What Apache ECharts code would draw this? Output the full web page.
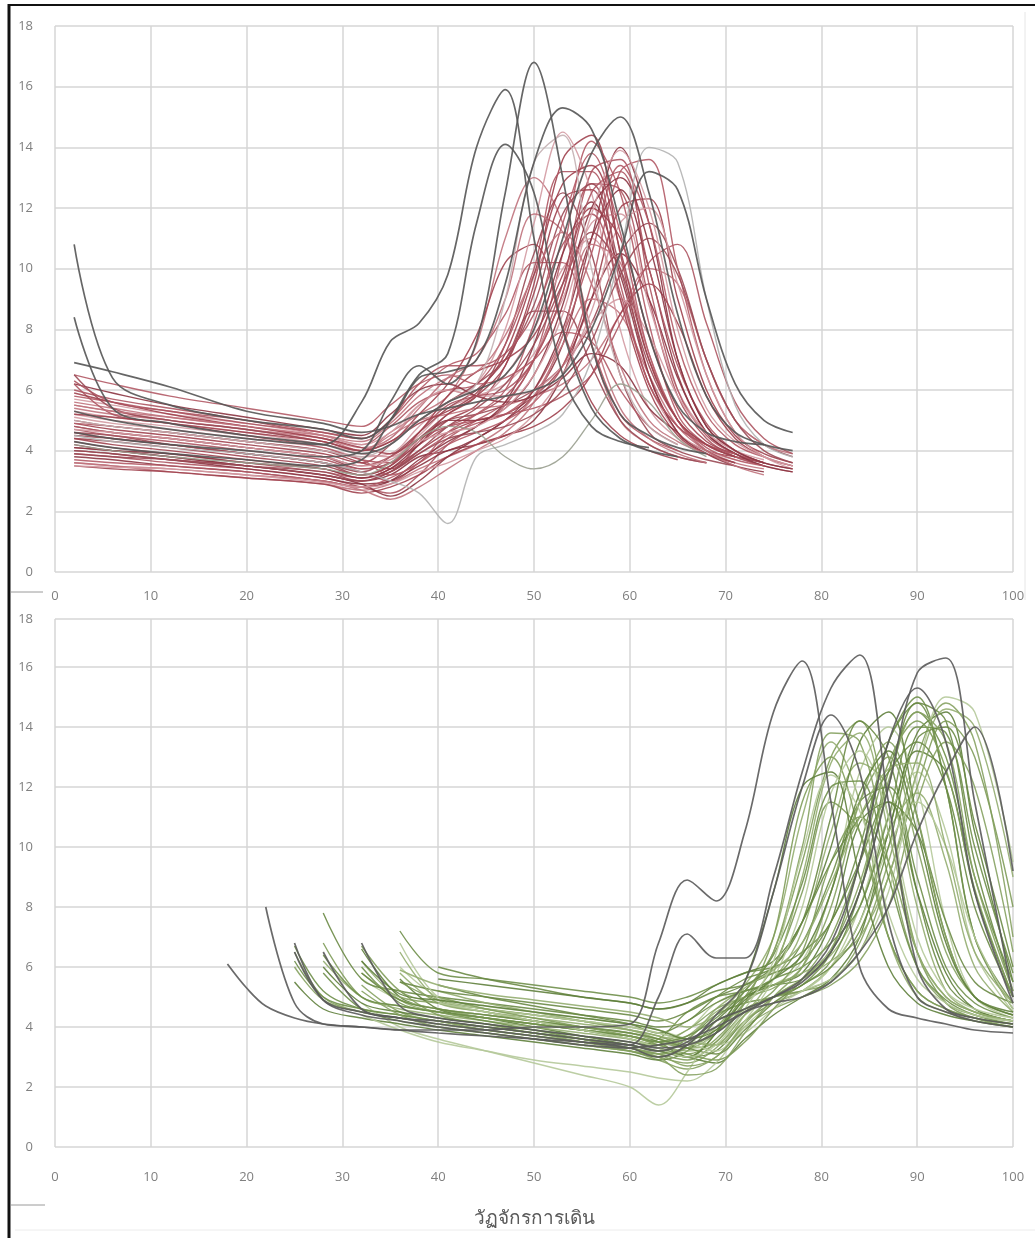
<!DOCTYPE html>
<html>
<head>
<meta charset="utf-8">
<script src="https://cdn.jsdelivr.net/npm/echarts@6/dist/echarts.min.js"></script>
<style>
html,body{margin:0;padding:0;background:#fff;}
#c{width:1035px;height:1238px;}
</style>
</head>
<body>
<div id="c"></div>
<script>
// ---------- DATA ----------
const xTickValues = [0,10,20,30,40,50,60,70,80,90,100];
const yTickValues = [0,2,4,6,8,10,12,14,16,18];
const xAxisTitle = 'วัฏจักรการเดิน';

// top panel: sample positions along the gait cycle
const topX = [2,6,12,20,28,32,35,38,41,44,47,50,53,56,59,62,65,68,71,74,77];
// top panel maroon curves
const topCurves = [
 [5.0,4.8,4.6,4.3,4.0,3.6,3.4,4.2,5.0,5.5,6.8,9.5,13.6,14.4,10.5,6.5,4.6,4.0,3.8,3.6,null],
 [4.6,4.4,4.2,3.9,3.6,3.3,3.0,3.6,4.4,5.0,5.6,7.0,10.5,14.2,12.5,8.2,5.2,4.2,3.8,3.5,null],
 [4.2,4.0,3.8,3.5,3.2,3.0,3.2,3.8,4.0,4.4,5.0,5.8,7.5,11.0,14.0,11.5,7.0,4.8,4.0,3.6,3.4],
 [5.5,5.3,5.0,4.7,4.3,4.0,4.6,5.2,5.8,7.5,11.0,13.0,11.5,7.5,5.0,4.2,3.8,3.6,null,null,null],
 [4.8,4.6,4.4,4.1,3.8,3.4,3.6,4.4,5.2,5.8,7.5,10.5,12.5,10.5,6.5,4.6,4.0,3.7,3.5,null,null],
 [3.9,3.8,3.6,3.4,3.1,2.8,2.6,3.2,4.2,4.8,5.5,7.0,9.5,12.8,12.6,9.0,5.8,4.4,3.8,3.5,3.3],
 [5.2,5.0,4.8,4.5,4.2,4.0,4.4,5.5,6.0,5.8,6.5,8.0,10.0,11.0,9.0,6.2,4.6,4.0,3.7,null,null],
 [4.4,4.2,4.0,3.7,3.4,3.1,3.4,4.0,4.6,5.0,5.2,5.8,6.8,9.0,12.0,12.3,9.0,6.0,4.5,3.9,3.6],
 [5.8,5.6,5.3,5.0,4.6,4.4,5.0,6.0,6.8,7.2,8.5,10.2,10.2,7.5,5.2,4.4,4.0,null,null,null,null],
 [4.0,3.9,3.7,3.4,3.1,2.9,3.0,3.5,4.0,4.2,4.5,5.0,6.5,9.0,10.5,9.0,6.4,4.6,3.9,3.6,null],
 [3.6,3.5,3.3,3.1,2.9,2.7,2.9,3.4,3.8,4.2,4.8,5.8,7.5,9.0,8.5,6.5,4.8,4.0,3.6,3.4,null],
 [4.6,4.5,4.2,3.9,3.6,3.2,3.5,4.4,5.0,5.2,5.5,6.0,6.8,8.2,10.5,11.5,10.0,7.0,5.0,4.2,3.8],
 [6.0,5.7,5.4,5.0,4.5,4.2,4.8,5.6,6.0,6.2,7.5,10.0,13.2,13.2,9.5,6.2,4.8,4.2,3.9,null,null],
 [5.3,5.1,4.9,4.6,4.2,3.9,3.8,4.5,5.4,5.8,6.2,7.2,9.0,11.5,11.8,8.8,6.0,4.6,4.0,3.7,null],
 [4.9,4.7,4.5,4.2,3.9,3.6,4.2,5.2,6.2,7.8,10.2,10.8,8.0,5.6,4.5,4.0,3.7,null,null,null,null],
 [4.3,4.1,3.9,3.6,3.3,3.1,3.3,3.9,4.5,4.9,5.2,6.0,7.8,10.5,13.4,11.5,7.5,5.2,4.2,3.8,null],
 [3.8,3.7,3.5,3.3,3.0,2.8,3.0,3.7,4.3,4.8,5.6,7.5,10.5,12.2,9.8,6.5,4.6,3.9,3.5,3.3,null],
 [5.6,5.4,5.1,4.8,4.4,4.0,4.5,5.0,5.2,5.4,5.5,5.8,6.2,7.0,8.5,10.0,9.5,7.0,5.0,4.2,3.9],
 [4.5,4.4,4.2,3.9,3.6,3.3,3.8,4.6,5.4,6.0,7.0,8.6,8.6,6.8,5.0,4.2,3.8,3.6,null,null,null],
 [4.7,4.5,4.3,4.0,3.7,3.4,3.6,4.2,4.8,5.2,5.8,7.0,9.2,13.2,13.6,9.5,6.0,4.5,3.9,3.6,null],
 [5.1,4.9,4.7,4.4,4.1,3.8,3.9,4.8,5.6,6.2,8.0,11.5,14.5,12.5,8.0,5.4,4.4,3.9,null,null,null],
 [3.5,3.4,3.3,3.1,2.9,2.6,2.8,3.2,3.8,4.2,4.5,4.8,5.4,6.5,8.5,9.5,8.2,5.8,4.4,3.8,3.5],
 [6.5,6.2,5.8,5.4,5.0,4.8,5.5,6.2,6.5,6.2,6.4,7.0,7.9,7.6,6.0,4.8,4.2,null,null,null,null],
 [4.1,4.0,3.8,3.5,3.2,2.9,2.5,3.0,3.8,4.4,5.0,6.0,8.0,11.0,12.6,10.0,6.5,4.6,3.9,3.5,3.3],
 [5.4,5.2,5.0,4.7,4.4,4.1,4.4,5.4,6.4,7.0,9.0,11.8,11.2,8.0,5.4,4.4,3.9,3.6,null,null,null],
 [4.0,3.9,3.7,3.5,3.2,3.0,3.3,4.0,4.8,5.4,6.2,7.5,9.5,11.2,10.0,7.0,5.0,4.0,3.6,null,null],
 [4.8,4.6,4.4,4.1,3.8,3.5,3.8,4.4,4.8,5.0,5.2,5.4,5.8,6.5,8.2,10.2,10.8,8.2,5.6,4.4,3.9],
 [5.7,5.5,5.2,4.9,4.5,4.2,4.6,5.5,6.0,5.8,5.8,6.0,6.8,8.2,9.0,7.8,5.8,4.6,4.0,null,null],
 [4.4,4.3,4.1,3.8,3.5,3.2,3.5,4.3,5.2,5.8,6.8,9.2,12.3,12.6,9.0,6.0,4.5,3.9,3.6,null,null],
 [3.7,3.6,3.5,3.3,3.0,2.8,3.1,3.6,4.2,4.6,5.0,5.6,6.8,9.5,13.2,13.6,10.0,6.5,4.6,3.8,3.5],
 [6.2,5.9,5.5,5.1,4.7,4.5,5.2,6.0,6.2,5.8,5.6,5.8,6.4,7.2,6.8,5.4,4.6,null,null,null,null],
 [3.6,3.5,3.4,3.2,3.0,2.7,2.4,2.8,3.4,4.0,4.6,5.6,7.8,10.8,10.2,7.2,5.0,4.0,3.5,3.2,null],
 [6.5,5.4,5.0,4.7,4.3,4.0,4.3,5.0,5.6,6.2,7.0,8.8,11.8,12.8,10.0,6.8,5.0,4.2,3.8,null,null],
 [6.2,5.2,4.9,4.5,4.1,3.7,3.6,4.6,5.5,5.8,6.0,7.0,9.2,12.5,13.2,10.0,6.8,4.9,4.0,3.6,null],
 [3.5,3.45,3.4,3.2,2.95,2.8,2.9,3.3,3.6,4.0,4.4,5.2,6.5,8.6,11.5,12.0,9.5,6.5,4.6,3.8,3.4],
 [5.9,5.6,5.2,4.8,4.4,4.1,3.9,4.6,5.8,6.6,7.0,7.8,9.8,12.0,11.0,7.8,5.4,4.3,3.9,null,null],
 [4.9,4.8,4.6,4.3,4.0,3.7,3.2,3.6,4.6,5.2,6.0,8.2,11.5,13.8,11.2,7.2,5.0,4.1,3.7,3.5,null],
 [4.1,4.0,3.9,3.6,3.4,3.1,3.4,4.2,5.0,5.0,5.4,6.5,8.8,12.0,13.0,10.8,7.0,4.8,4.0,3.6,3.4],
 [5.5,5.3,5.1,4.8,4.5,4.3,4.9,5.8,6.4,6.6,7.8,9.8,11.2,9.5,6.8,5.0,4.3,3.9,null,null,null],
 [3.9,3.8,3.7,3.5,3.3,3.0,3.3,3.9,4.4,4.6,4.8,5.2,6.0,7.6,9.8,11.0,9.8,7.0,5.0,4.0,3.6],
 [6.3,5.6,5.3,4.9,4.6,4.4,5.0,6.2,6.8,6.8,7.2,8.5,10.8,11.8,9.2,6.2,4.8,4.2,3.9,null,null],
 [4.7,4.6,4.4,4.1,3.8,3.5,3.7,4.3,4.6,4.8,5.4,6.5,8.5,11.8,13.9,12.0,8.0,5.4,4.3,3.8,3.5],
 [5.2,5.1,4.9,4.6,4.3,4.0,4.3,4.9,5.3,5.9,7.2,9.8,12.8,13.4,10.6,7.0,5.0,4.2,3.8,null,null]
];
// top panel grey curves
const topGrayDark = [
 [10.8,6.4,5.5,5.0,4.7,4.4,5.0,6.4,6.6,7.0,9.5,13.5,15.3,14.6,11.5,7.8,5.5,4.6,4.3,4.2,null],
 [8.4,5.4,4.9,4.5,4.2,3.9,4.2,5.0,5.6,6.0,6.5,8.0,11.0,13.8,15.0,12.5,8.5,5.8,4.6,4.2,4.0],
 [5.3,5.0,4.7,4.4,4.2,5.6,7.6,8.2,9.8,14.0,15.9,11.0,6.5,4.8,4.3,4.1,null,null,null,null,null],
 [4.6,4.4,4.2,4.0,3.8,4.0,5.6,6.8,6.2,7.6,12.5,16.8,13.0,7.5,5.2,4.5,4.1,3.9,null,null,null],
 [4.3,4.1,3.9,3.7,3.5,3.7,5.0,6.5,7.2,11.5,14.1,12.5,8.0,5.4,4.4,4.0,3.8,null,null,null,null],
 [6.9,6.6,6.1,5.3,4.9,4.6,4.8,5.2,5.4,5.6,5.8,6.0,6.5,8.0,10.5,13.2,12.6,9.0,6.2,5.0,4.6]
];
const topGrayLight = [
 [4.5,4.3,4.1,3.9,3.6,3.3,3.0,2.6,1.6,3.8,4.2,4.6,5.2,7.0,10.5,14.0,13.5,9.0,5.5,4.2,3.8],
 [5.0,4.8,4.6,4.3,4.0,3.8,4.2,5.0,5.6,6.2,9.0,13.5,14.4,10.0,6.5,4.8,4.2,null,null,null,null],
 [4.2,4.0,3.8,3.6,3.4,3.2,3.6,4.4,4.8,4.6,3.8,3.4,3.8,5.0,6.2,5.6,4.4,3.8,null,null,null]
];

// bottom panel
const botX = [18,20,22,25,28,32,36,40,45,50,55,60,63,66,69,72,75,78,81,84,87,90,93,96,100];
const botCurves = [
 [null,null,null,6.7,5.2,4.6,4.4,4.2,4.0,3.8,3.6,3.4,3.2,3.6,4.4,4.8,5.0,5.4,6.5,9.5,13.5,14.8,12,7,4.6],
 [null,null,null,null,6.8,5.0,4.7,4.5,4.3,4.1,3.9,3.7,3.5,3.3,3.8,5.0,6.5,9.5,13,14.2,11,6.5,4.8,4.3,4.0],
 [null,null,null,null,null,6.6,5.0,4.6,4.4,4.2,4.0,3.8,3.5,3.0,3.2,4.2,4.8,5.2,6.0,7.5,10.5,13.8,14.5,10.5,5.5],
 [null,null,null,null,null,null,5.8,4.8,4.5,4.2,3.9,3.6,3.4,3.6,4.6,5.4,7.0,11,13.5,11.5,7.0,5.0,4.5,4.2,4.0],
 [null,null,null,6.5,5.0,4.5,4.3,4.1,3.9,3.7,3.5,3.3,3.0,2.8,3.3,4.4,5.0,5.2,5.5,6.8,9.5,13,14.8,13.5,7.0],
 [null,null,null,null,null,5.6,4.9,4.6,4.4,4.2,4.0,3.8,3.6,3.9,4.8,5.2,5.4,6.2,8.5,12.5,14.0,12,7.5,5.0,4.3],
 [null,null,null,null,7.8,5.6,5.2,5.0,4.8,4.6,4.4,4.2,4.0,4.2,5.0,5.6,6.0,7.5,11,14.2,13,8.5,5.5,4.6,4.2],
 [null,null,null,null,null,null,7.2,5.8,5.6,5.4,5.2,5.0,4.8,5.0,5.4,5.8,6.0,6.5,7.5,10,13.5,15.0,12,7.0,4.8],
 [null,null,null,null,null,6.7,5.2,4.8,4.5,4.2,3.9,3.6,3.3,3.1,3.6,4.8,7.0,11.5,13.0,10.5,7.0,5.2,4.6,4.3,4.1],
 [null,null,null,null,null,null,5.6,4.6,4.3,4.0,3.7,3.4,3.2,3.0,2.8,3.6,4.4,5.0,5.6,7.0,10.5,13.2,12.5,8.5,5.0],
 [null,null,null,null,6.2,5.0,4.6,4.4,4.2,4.0,3.8,3.6,3.4,3.7,4.5,5.0,5.6,7.2,10.5,12.8,12,8.0,5.2,4.5,4.2],
 [null,null,null,null,null,5.4,4.5,4.2,4.0,3.8,3.5,3.2,2.9,2.6,3.0,4.0,4.6,5.0,5.4,6.2,8.0,11.5,13.5,12.0,6.5],
 [null,null,null,null,null,4.8,4.0,3.6,3.2,2.8,2.4,2.0,1.4,2.5,4.0,4.6,5.0,5.2,6.0,8.0,11,12.5,10.5,6.5,4.5],
 [null,null,null,null,null,null,null,5.4,5.0,4.7,4.4,4.1,3.8,4.2,4.8,5.2,5.4,5.6,6.5,8.5,12,14.8,14.2,9.5,5.2],
 [null,null,null,null,null,6.0,4.8,4.5,4.2,3.9,3.6,3.3,3.6,4.5,5.0,5.2,5.6,6.8,9,11.5,12,9,6,4.8,4.3],
 [null,null,null,null,null,null,5.5,4.9,4.6,4.4,4.2,3.9,3.7,3.4,3.8,4.6,5.0,5.2,5.6,6.5,9.0,12,14.2,13,8.0],
 [null,null,null,5.5,4.6,4.3,4.1,3.9,3.7,3.5,3.3,3.1,2.9,3.2,4.2,5.0,5.4,5.8,7.5,10.8,11.5,8.5,5.8,4.6,4.2],
 [null,null,null,null,null,null,null,5.2,4.8,4.5,4.2,3.9,3.6,3.3,3.5,4.8,5.4,5.8,6.4,8.0,10.5,11.8,9.5,6.0,4.5],
 [null,null,null,null,null,5.8,5.0,4.8,4.6,4.4,4.2,4.0,3.8,3.6,4.0,5.2,6.5,10,13.8,13.5,9.5,6.0,4.8,4.4,4.2],
 [null,null,null,null,null,null,6.0,5.0,4.7,4.5,4.3,4.1,3.9,3.6,3.4,3.8,4.6,5.2,5.6,6.5,8.5,12.5,15.0,14.5,9.5],
 [null,null,null,null,null,null,null,6.0,5.6,5.3,5.0,4.8,4.6,4.8,5.2,5.4,5.8,6.2,7.5,9.5,11.5,10.5,7.5,5.5,4.8],
 [null,null,null,null,5.8,4.6,4.2,4.0,3.8,3.6,3.4,3.2,3.0,3.4,4.2,4.6,5.0,5.4,6.2,8.5,12.5,14.5,13,9,5.5],
 [null,null,null,null,null,null,5.2,4.4,4.1,3.8,3.6,3.3,3.1,2.9,3.5,4.5,5.2,6.5,9.5,11,9.5,6.5,5.0,4.5,4.2],
 [null,null,null,null,null,null,null,5.6,5.4,5.2,5.0,4.8,4.6,4.8,5.4,5.8,6.2,7.5,10,13.5,14.5,11,7,5.0,4.5],
 [null,null,null,null,null,6.2,4.9,4.5,4.3,4.1,3.9,3.7,3.4,3.2,3.4,4.2,5.0,5.6,6.2,7.0,9.0,12.5,14.6,14.0,9.0],
 [null,null,null,null,null,null,null,4.6,4.3,4.1,3.9,3.7,3.5,3.9,4.6,5.0,5.3,6.0,8.0,11.5,13.5,11,7.0,5.0,4.4],
 [null,null,null,null,null,4.4,3.9,3.5,3.2,2.9,2.7,2.5,2.3,2.2,2.8,4.0,4.8,5.2,6.0,7.5,10,11.5,10,7,4.6],
 [null,null,null,null,null,null,5.5,5.2,5.0,4.8,4.6,4.4,4.2,4.5,5.0,5.4,6.0,7.5,9.5,11,12.5,13.5,12,8,5],
 [null,null,null,6.2,5.0,4.6,4.4,4.2,4.0,3.8,3.6,3.4,3.2,3.0,3.8,5.0,5.6,6.0,6.8,8.0,11,14.0,13.8,10,5.8],
 [null,null,null,null,null,null,null,4.2,3.9,3.7,3.5,3.3,3.1,3.3,3.9,4.8,6.0,8.5,11.5,10.5,7.0,5.2,4.6,4.3,4.1],
 [null,null,null,null,6.0,4.8,4.5,4.3,4.1,3.9,3.7,3.5,3.3,3.0,3.8,5.5,8.5,12.0,12.5,9.0,6.0,4.8,4.4,4.2,4.0],
 [null,null,null,null,null,null,6.5,4.9,4.5,4.3,4.1,3.9,3.7,3.5,3.4,4.4,5.8,9.0,12.8,13.8,10.5,6.5,5.0,4.5,4.2],
 [null,null,null,null,null,5.2,4.4,4.0,3.8,3.6,3.4,3.2,3.0,2.4,2.6,3.8,5.0,6.0,8.5,11.5,13.0,10.0,6.5,5.0,4.4],
 [null,null,null,null,null,null,6.8,5.0,4.6,4.4,4.2,4.0,3.8,3.5,3.2,4.2,5.6,8.0,11.8,13.2,11.0,7.0,5.2,4.6,4.3],
 [null,null,null,null,null,5.8,4.9,4.6,4.4,4.2,4.0,3.8,3.6,3.3,3.1,3.9,4.8,5.4,6.0,7.2,10.0,13.6,14.0,10.8,6.0],
 [null,null,null,null,6.4,5.0,4.7,4.5,4.3,4.1,3.9,3.7,3.5,3.7,4.3,5.2,6.4,8.8,12.0,12.2,9.0,6.0,4.9,4.4,4.1],
 [null,null,null,null,null,null,null,5.0,4.6,4.3,4.0,3.7,3.4,3.1,2.9,3.5,4.6,5.6,7.0,9.5,12.8,14.2,12.6,8.6,5.0],
 [null,null,null,null,null,6.2,5.1,4.9,4.7,4.5,4.3,4.1,3.9,3.6,3.9,4.9,5.6,6.4,8.5,11.8,13.2,10.5,6.8,5.0,4.4],
 [null,null,null,null,null,null,5.9,5.4,5.1,4.9,4.7,4.5,4.3,4.0,4.4,5.3,5.9,6.8,8.8,11.0,12.6,12.8,10.0,6.5,4.8],
 [null,null,null,6.0,4.9,4.5,4.3,4.1,3.9,3.7,3.5,3.3,3.1,2.7,3.0,4.1,5.0,5.6,6.6,8.8,12.2,14.5,13.5,9.0,5.2],
 [null,null,null,null,null,null,null,4.8,4.5,4.2,3.9,3.6,3.3,3.0,3.4,4.6,6.2,9.8,12.4,11.2,7.8,5.6,4.8,4.4,4.2]
];
const botGrayDark = [
 [6.1,5.3,4.7,4.3,4.1,4.0,3.9,3.9,3.9,4.0,4.0,4.1,6.8,8.9,8.2,10.5,14.5,16.2,11.5,6.0,4.6,4.3,4.1,3.9,3.8],
 [null,null,8.0,4.8,4.1,4.0,3.9,3.8,3.7,3.6,3.5,3.4,5.0,7.1,6.3,6.3,9.0,12.5,15.3,16.4,11.5,6.0,4.6,4.3,4.1],
 [null,null,null,6.8,4.9,4.4,4.2,4.0,3.8,3.6,3.4,3.3,3.4,3.6,4.0,4.5,5.0,5.5,6.5,8.5,12,15.8,16.3,11.5,5.0],
 [null,null,null,null,null,6.8,4.7,4.3,4.1,3.9,3.7,3.5,3.3,3.4,3.8,4.5,4.8,5.0,5.5,6.5,8.0,10.5,12.5,14.0,9.2],
 [null,null,null,null,6.5,4.6,4.3,4.2,4.0,3.8,3.6,3.4,3.2,3.5,4.2,4.6,5.0,5.6,6.8,9.5,13.5,15.3,13.5,8.5,4.8],
 [null,null,null,6.5,4.9,4.5,4.3,4.1,3.9,3.7,3.5,3.3,3.0,3.4,4.4,5.5,8.5,12,14.4,12.5,7.5,5.0,4.5,4.2,4.0]
];

// ---------- STYLE ----------
const topPalette = ['#a0434f','#b25a66','#8c3542','#c0737d','#9a4a55','#ad5562','#d39aa2'];
const botPalette = ['#6f8f4a','#7f9c5a','#5f7f3c','#94ad70','#86a262','#b5c99a','#6a8a45'];
const FONT = '"Open Sans", "Noto Sans", sans-serif';

function pts(xs, ys){
  const out = [];
  for (let i = 0; i < xs.length; i++) if (ys[i] !== null) out.push([xs[i], ys[i]]);
  return out;
}
function mk(xs, ys, gi, color, w, z){
  return {
    type:'line', xAxisIndex:gi, yAxisIndex:gi, data: pts(xs, ys),
    showSymbol:false, smooth:0.35, silent:true,
    lineStyle:{color:color, width:w, opacity:0.9}, z:z
  };
}
const series = [];
topCurves.forEach((c,i)=>series.push(mk(topX, c, 0, topPalette[i % topPalette.length], 1.4, 2)));
topGrayLight.forEach((c,i)=>series.push(mk(topX, c, 0, ['#b3b3b3','#c4b0b3','#9aa090'][i], 1.4, 3)));
topGrayDark.forEach(c=>series.push(mk(topX, c, 0, '#555555', 1.7, 4)));
botCurves.forEach((c,i)=>series.push(mk(botX, c, 1, botPalette[i % botPalette.length], 1.4, 2)));
botGrayDark.forEach(c=>series.push(mk(botX, c, 1, '#5a5a5a', 1.7, 4)));

const splitStyle = {show:true, lineStyle:{color:'#d6d6d6', width:1.5}};
const labelStyle = {color:'#808080', fontSize:13, fontFamily:FONT};

function xAx(gi, extra){
  return Object.assign({
    type:'value', gridIndex:gi, min:xTickValues[0], max:xTickValues[xTickValues.length-1], interval:10,
    axisLine:{show:false}, axisTick:{show:false}, splitLine:splitStyle,
    axisLabel:Object.assign({margin:18}, labelStyle)
  }, extra||{});
}
function yAx(gi, max){
  return {
    type:'value', gridIndex:gi, min:0, max:max, interval:2,
    axisLine:{show:false}, axisTick:{show:false}, splitLine:splitStyle,
    axisLabel:Object.assign({margin:22, formatter:v => (v > 17 ? String(yTickValues[yTickValues.length-1]) : String(v))}, labelStyle)
  };
}

const chart = echarts.init(document.getElementById('c'));
chart.setOption({
  animation:false,
  backgroundColor:'#ffffff',
  grid:[
    {left:55, top:26, width:958, height:546},
    {left:55, top:619, width:958, height:528}
  ],
  xAxis:[
    xAx(0),
    xAx(1, {name:xAxisTitle, nameLocation:'middle', nameGap:62,
      nameTextStyle:{color:'#595959', fontSize:19, fontFamily:FONT}, axisLabel:Object.assign({margin:24}, labelStyle)})
  ],
  yAxis:[ yAx(0, 18), yAx(1, 17.6) ],
  series: series,
  graphic:[
    {type:'line', shape:{x1:9, y1:4, x2:9, y2:1238}, style:{stroke:'#111', lineWidth:3}, silent:true},
    {type:'line', shape:{x1:8, y1:5, x2:1035, y2:5}, style:{stroke:'#111', lineWidth:2}, silent:true},
    {type:'line', shape:{x1:11, y1:592, x2:43, y2:592}, style:{stroke:'#9a9a9a', lineWidth:1}, silent:true},
    {type:'line', shape:{x1:11, y1:1205, x2:45, y2:1205}, style:{stroke:'#9a9a9a', lineWidth:1}, silent:true},
    {type:'line', shape:{x1:15, y1:1230, x2:1035, y2:1230}, style:{stroke:'#ececec', lineWidth:1}, silent:true},
    {type:'line', shape:{x1:1025, y1:12, x2:1025, y2:600}, style:{stroke:'#e6e6e6', lineWidth:1}, silent:true}
  ]
});
</script>
</body>
</html>
